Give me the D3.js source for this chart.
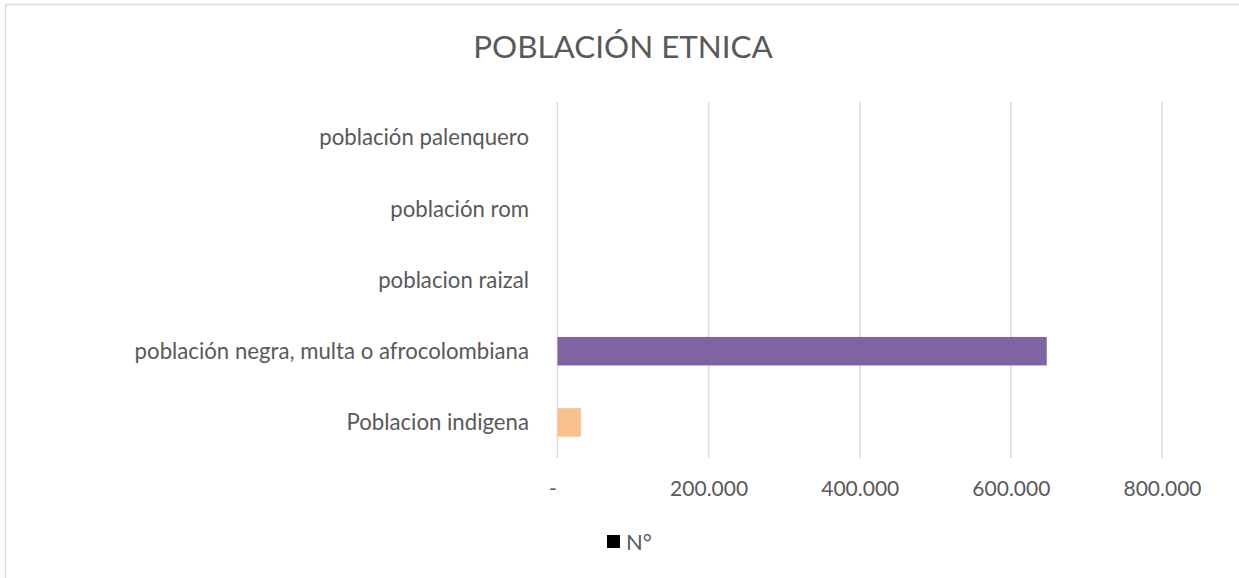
<!DOCTYPE html>
<html>
<head>
<meta charset="utf-8">
<script src="https://cdn.jsdelivr.net/npm/d3@7"></script>
<style>
  html, body { margin: 0; padding: 0; background: #fff; }
  svg { display: block; }
  text { font-family: Lato, "Open Sans", sans-serif; fill: #595959; }
</style>
</head>
<body>
<svg id="chart" width="1239" height="578"></svg>
<script>
const title = "POBLACIÓN ETNICA";
const categories = [
  "población palenquero",
  "población rom",
  "poblacion raizal",
  "población negra, multa o afrocolombiana",
  "Poblacion indigena"
];
const values = [0, 0, 0, 647500, 31000];
const barColors = ["#4472c4", "#a5a5a5", "#5b9bd5", "#8064a2", "#f9c190"];
const tickValues = [0, 200000, 400000, 600000, 800000];
const tickLabels = ["-", "200.000", "400.000", "600.000", "800.000"];
const legendLabel = "N°";

const FONT = 'Lato, "Open Sans", sans-serif';
const svg = d3.select("#chart");

// outer border
svg.append("rect")
  .attr("x", 5.5).attr("y", 4.5)
  .attr("width", 1260).attr("height", 600)
  .attr("fill", "#fff").attr("stroke", "#d9d9d9").attr("stroke-width", 1.5);

const plot = { left: 557.5, right: 1162, top: 102, bottom: 458 };

const x = d3.scaleLinear().domain([0, 800000]).range([plot.left, plot.right]);
const y = d3.scaleBand().domain(categories).range([plot.top, plot.bottom]).paddingInner(0.6).paddingOuter(0.3);

// gridlines
svg.append("g")
  .selectAll("line")
  .data(tickValues)
  .join("line")
  .attr("x1", d => x(d)).attr("x2", d => x(d))
  .attr("y1", plot.top).attr("y2", plot.bottom)
  .attr("stroke", "#d9d9d9").attr("stroke-width", 1.5);

// bars
svg.append("g")
  .selectAll("rect")
  .data(categories.map((c, i) => ({ c, v: values[i], color: barColors[i] })))
  .join("rect")
  .attr("x", x(0))
  .attr("y", d => y(d.c))
  .attr("width", d => x(d.v) - x(0))
  .attr("height", y.bandwidth())
  .attr("fill", d => d.color);

// x axis labels
const xAxis = d3.axisBottom(x).tickValues(tickValues).tickFormat((d, i) => tickLabels[i]).tickSize(0).tickPadding(0);
const gx = svg.append("g").attr("transform", `translate(0, ${plot.bottom})`).call(xAxis);
gx.select(".domain").remove();
gx.selectAll("text")
  .attr("y", 31).attr("dy", "0.35em")
  .attr("dx", (d, i) => i === 0 ? -5 : 0)
  .style("font-size", "21px").style("font-family", FONT).attr("fill", "#595959");

// y axis labels
const yAxis = d3.axisLeft(y).tickSize(0).tickPadding(0);
const gy = svg.append("g").attr("transform", `translate(${529}, 0)`).call(yAxis);
gy.select(".domain").remove();
gy.selectAll("text")
  .attr("x", 0).attr("dy", "0.35em")
  .style("font-size", "22.2px").style("font-family", FONT).attr("fill", "#595959");

// title
svg.append("text")
  .attr("x", 623).attr("y", 47).attr("dy", "0.35em")
  .attr("text-anchor", "middle")
  .style("font-size", "31.4px")
  .text(title);

// legend
svg.append("rect").attr("x", 607).attr("y", 535).attr("width", 13).attr("height", 13).attr("fill", "#000");
svg.append("text").attr("x", 626).attr("y", 542).attr("dy", "0.35em")
  .style("font-size", "22px").text(legendLabel);
</script>
</body>
</html>
